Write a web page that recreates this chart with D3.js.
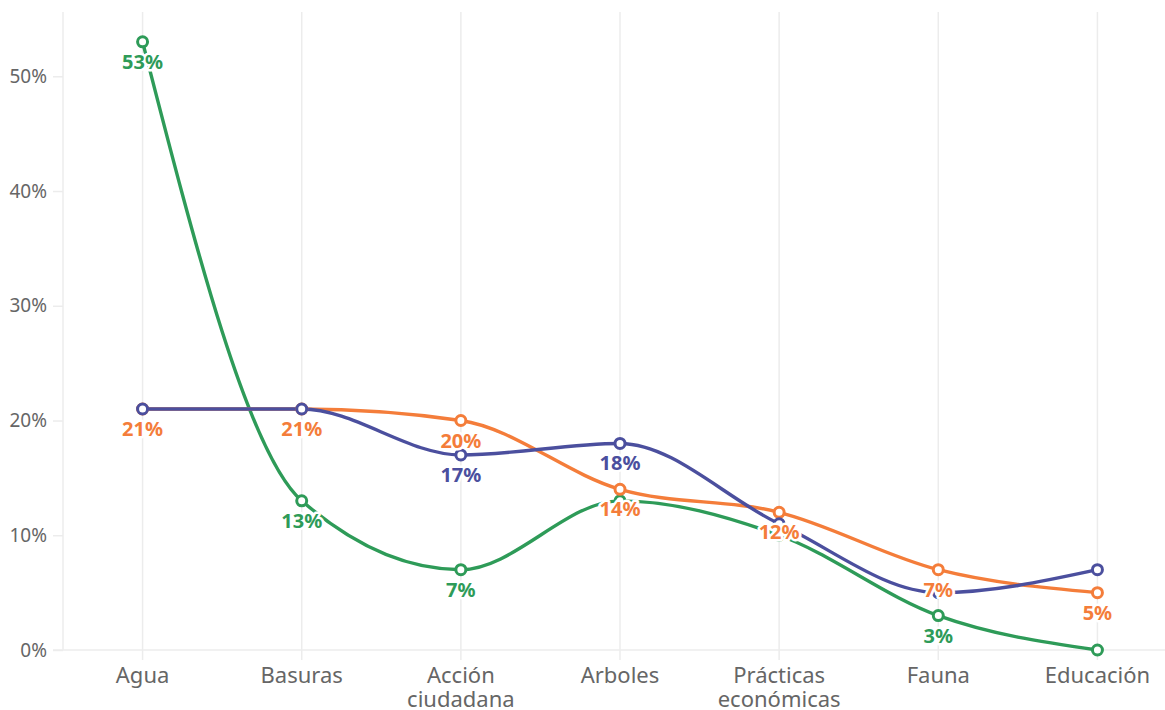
<!DOCTYPE html>
<html>
<head>
<meta charset="utf-8">
<script src="https://cdn.jsdelivr.net/npm/d3@7"></script>
<style>
  html, body { margin: 0; padding: 0; background: #fff; }
  svg { display: block; font-family: "Noto Sans", "Open Sans", sans-serif; }
</style>
</head>
<body>
<svg id="chart" width="1165" height="710"></svg>
<script>
// Categories along the x axis
const categories = ["Agua", "Basuras", "Acción ciudadana", "Arboles", "Prácticas económicas", "Fauna", "Educación"];
const categoryLines = [["Agua"], ["Basuras"], ["Acción", "ciudadana"], ["Arboles"], ["Prácticas", "económicas"], ["Fauna"], ["Educación"]];

// Percentages per series
const seriesOrange = [21, 21, 20, 14, 12, 7, 5];
const seriesGreen  = [53, 13, 7, 13, 10, 3, 0];
const seriesBlue   = [21, 21, 17, 18, 11, 5, 7];

// Y tick values (percent)
const yTicks = [0, 10, 20, 30, 40, 50];

const series = [
  { key: "orange", values: seriesOrange, color: "#f47d3a" },
  { key: "green",  values: seriesGreen,  color: "#2e9b58" },
  { key: "blue",   values: seriesBlue,   color: "#4b4f9e" }
];

const svg = d3.select("#chart");
const plotLeft = 63, plotRight = 1177, plotTop = 12, plotBottom = 650;

const x = d3.scalePoint().domain(categories).range([plotLeft, plotRight]).padding(0.5);
const y = d3.scaleLinear().domain([0, 55.6]).range([plotBottom, plotTop]);

// vertical gridlines per category, extending slightly below the baseline
svg.append("g").selectAll("line").data(categories).join("line")
  .attr("x1", d => x(d)).attr("x2", d => x(d))
  .attr("y1", plotTop).attr("y2", plotBottom + 10)
  .attr("stroke", "#ececec").attr("stroke-width", 1.5);

// left axis line
svg.append("line").attr("x1", plotLeft).attr("x2", plotLeft).attr("y1", plotTop).attr("y2", plotBottom)
  .attr("stroke", "#ececec").attr("stroke-width", 1.5);

// baseline
svg.append("line").attr("x1", plotLeft - 10).attr("x2", 1165).attr("y1", y(0)).attr("y2", y(0))
  .attr("stroke", "#ececec").attr("stroke-width", 1.5);

// y axis ticks and labels
const yAxis = d3.axisLeft(y).tickValues(yTicks).tickFormat(d => d + "%").tickSize(10).tickPadding(6);
const gy = svg.append("g").attr("transform", `translate(${plotLeft},0)`).call(yAxis);
gy.select(".domain").remove();
gy.selectAll(".tick line").attr("stroke", "#ececec").attr("stroke-width", 1.5);
gy.selectAll(".tick text").attr("fill", "#666").style("font-size", "19px").style("font-family", "'Noto Sans', sans-serif");

// x axis category labels (wrapped onto two lines where needed)
const gx = svg.append("g");
categories.forEach((c, i) => {
  const t = gx.append("text").attr("x", x(c)).attr("y", 683)
    .attr("text-anchor", "middle").attr("fill", "#666").style("font-size", "22px");
  categoryLines[i].forEach((ln, j) => {
    t.append("tspan").attr("x", x(c)).attr("dy", j === 0 ? 0 : 24).text(ln);
  });
});

const line = d3.line()
  .x((d, i) => x(categories[i]))
  .y(d => y(d))
  .curve(d3.curveMonotoneX);

const drawOrder = [series[1], series[0], series[2]];

// lines
svg.append("g").selectAll("path").data(drawOrder).join("path")
  .attr("d", s => line(s.values))
  .attr("fill", "none")
  .attr("stroke", s => s.color)
  .attr("stroke-width", 3.4);

// markers
drawOrder.forEach(s => {
  svg.append("g").selectAll("circle").data(s.values).join("circle")
    .attr("cx", (d, i) => x(categories[i]))
    .attr("cy", d => y(d))
    .attr("r", 5)
    .attr("fill", "#fff")
    .attr("stroke", s.color)
    .attr("stroke-width", 3);
});

// value labels: placed greedily, skipping any that would collide with one already placed
const placed = [];
const labelG = svg.append("g");
series.forEach(s => {
  s.values.forEach((v, i) => {
    const cx = x(categories[i]);
    const cy = y(v) + 20;
    if (cy + 8 > plotBottom) return;
    const w = 40, h = 26;
    const hit = placed.some(p => Math.abs(p.x - cx) < w && Math.abs(p.y - cy) < h);
    if (hit) return;
    placed.push({ x: cx, y: cy });
    labelG.append("text")
      .attr("x", cx).attr("y", cy)
      .attr("dy", "0.35em")
      .attr("text-anchor", "middle")
      .attr("fill", s.color)
      .attr("stroke", "#fff").attr("stroke-width", 5).attr("stroke-linejoin", "round")
      .attr("paint-order", "stroke")
      .style("font-size", "20px").style("font-weight", "bold")
      .text(v + "%");
  });
});
</script>
</body>
</html>
